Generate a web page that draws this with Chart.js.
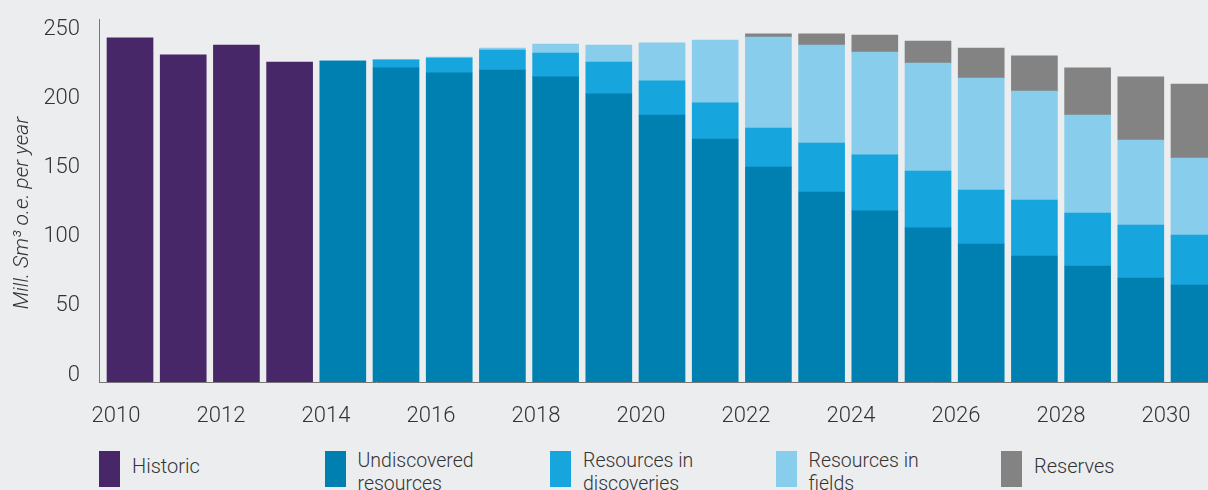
<!DOCTYPE html>
<html>
<head>
<meta charset="utf-8">
<script src="https://cdn.jsdelivr.net/npm/chart.js@4.4.1/dist/chart.umd.min.js"></script>
<style>
    body {
        margin: 0;
        width: 1208px;
        height: 490px;
        overflow: hidden;
        background: #ecedef;
        font-family: Roboto, 'Liberation Sans', sans-serif;
        font-weight: 300;
        color: #333333;
    }
    #wrap {
        position: absolute;
        left: 0;
        top: 0;
        width: 1208px;
        height: 440px;
    }
    .legend-item {
        position: absolute;
        top: 451px;
    }
    .legend-box {
        position: absolute;
        left: 0;
        top: 0;
        width: 21px;
        height: 36px;
    }
    .legend-text {
        position: absolute;
        left: 33px;
        width: 150px;
        line-height: 23px;
    }
</style>
</head>
<body>
<div id="wrap"><canvas id="chartProducao"></canvas></div>
<div id="legenda"></div>

<script>
// Data (Mill. Sm3 o.e. per year)
const anos = [2010, 2011, 2012, 2013, 2014, 2015, 2016, 2017, 2018, 2019, 2020,
              2021, 2022, 2023, 2024, 2025, 2026, 2027, 2028, 2029, 2030];

const historic     = [248.8, 236.5, 243.7, 231.4, null, null, null, null, null, null, null,
                      null, null, null, null, null, null, null, null, null, null];
const undiscovered = [null, null, null, null, 232.1, 227.1, 223.5, 225.6, 220.6, 208.3, 193.1,
                      175.7, 155.5, 137.4, 123.7, 111.4, 99.8, 91.1, 83.9, 75.2, 70.1];
const discoveries  = [null, null, null, null, 0, 5.8, 10.8, 14.5, 17.3, 23.1, 24.6,
                      26.1, 28.2, 35.4, 40.5, 41.2, 39.0, 40.5, 38.3, 38.3, 36.2];
const fields       = [null, null, null, null, 0, 0, 0.7, 1.4, 6.5, 12.3, 27.5,
                      45.5, 65.8, 70.9, 74.4, 78.1, 81.0, 78.8, 70.9, 61.5, 55.7];
const reserves     = [null, null, null, null, null, null, null, null, null, null, null,
                      null, 2.2, 8.0, 12.3, 15.9, 21.7, 25.4, 34.0, 45.6, 53.5];

const seriesNomes = ['Historic', 'Undiscovered resources', 'Resources in discoveries', 'Resources in fields', 'Reserves'];
const seriesCores = ['#472767', '#0080b0', '#17a5de', '#88cdeb', '#838383'];
const yTicks = [0, 50, 100, 150, 200, 250];
const xTicks = [2010, 2012, 2014, 2016, 2018, 2020, 2022, 2024, 2026, 2028, 2030];

const fonte = 'Roboto, "Liberation Sans", sans-serif';

function montarPontos(valores) {
    return anos.map((ano, i) => ({ x: ano, y: valores[i] }));
}

const todasSeries = [historic, undiscovered, discoveries, fields, reserves];

const datasets = todasSeries.map((valores, i) => ({
    label: seriesNomes[i],
    data: montarPontos(valores),
    backgroundColor: seriesCores[i],
    borderWidth: 0,
    barThickness: 46,
    xAxisID: 'xb',
    yAxisID: 'y'
}));

new Chart(document.getElementById('chartProducao'), {
    type: 'bar',
    data: { datasets: datasets },
    options: {
        responsive: true,
        maintainAspectRatio: false,
        animation: false,
        layout: { padding: { top: 19, left: 0, right: 0, bottom: 0 } },
        plugins: {
            legend: { display: false },
            tooltip: { enabled: false }
        },
        scales: {
            // axis that carries the year labels
            x: {
                type: 'linear',
                position: 'bottom',
                offset: false,
                min: 2009.676,
                max: 2030.8,
                grid: { display: false, drawTicks: false, offset: false },
                border: { display: true, color: '#777777', width: 1 },
                afterBuildTicks: scale => {
                    scale.ticks = xTicks.map(v => ({ value: v }));
                },
                afterFit: scale => {
                    scale.height = 58;
                    scale.paddingLeft = 0;
                    scale.paddingRight = 0;
                },
                ticks: {
                    color: '#333333',
                    font: { family: fonte, size: 22, weight: 300 },
                    padding: 21,
                    maxRotation: 0,
                    autoSkip: false,
                    callback: v => String(v)
                }
            },
            // axis used to place the bars (no visible parts)
            xb: {
                type: 'linear',
                position: 'bottom',
                offset: false,
                stacked: true,
                min: 2009.417,
                max: 2030.263,
                grid: { display: false, drawTicks: false, offset: false },
                border: { display: false },
                ticks: { display: false },
                afterFit: scale => {
                    scale.height = 0;
                    scale.paddingLeft = 0;
                    scale.paddingRight = 0;
                }
            },
            y: {
                type: 'linear',
                stacked: true,
                min: 0,
                max: 262.5,
                grid: { display: false, drawTicks: false },
                border: { display: true, color: '#777777', width: 1 },
                afterBuildTicks: scale => {
                    scale.ticks = yTicks.map(v => ({ value: v }));
                },
                afterFit: scale => {
                    scale.width = 99;
                    scale.paddingTop = 0;
                    scale.paddingBottom = 0;
                },
                title: {
                    display: true,
                    text: 'Mill. Sm³ o.e. per year     ',
                    color: '#333333',
                    font: { family: fonte, size: 21, style: 'italic', weight: 300 },
                    padding: { top: 10, bottom: 0 }
                },
                ticks: {
                    color: '#333333',
                    font: { family: fonte, size: 22, weight: 300 },
                    padding: 19,
                    labelOffset: -7
                }
            }
        }
    }
});

// HTML legend below the chart
const legenda = document.getElementById('legenda');
seriesNomes.forEach((nome, i) => {
    const item = document.createElement('div');
    item.className = 'legend-item';
    item.style.left = (99 + i * 225.5) + 'px';
    const duasLinhas = nome.length > 10;
    item.innerHTML = `
        <div class="legend-box" style="background:${seriesCores[i]}"></div>
        <div class="legend-text" style="top:${duasLinhas ? -2 : 4}px; font-size:${duasLinhas ? 19.5 : 20}px">${nome}</div>
    `;
    legenda.appendChild(item);
});
</script>
</body>
</html>
